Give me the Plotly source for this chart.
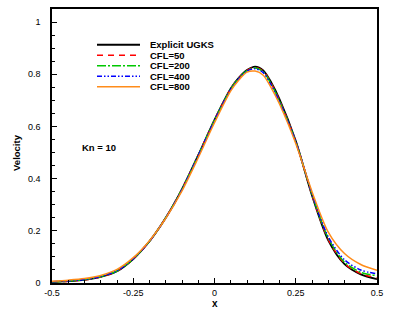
import plotly.graph_objects as go

x = [-0.5, -0.45, -0.4, -0.35, -0.3, -0.25, -0.2, -0.15, -0.1, -0.05, 0.0,
     0.05, 0.075, 0.1, 0.125, 0.15, 0.175, 0.2, 0.25, 0.3, 0.35, 0.4, 0.45, 0.5]

explicit_ugks = [0.004, 0.007, 0.012, 0.023, 0.045, 0.092, 0.160, 0.250, 0.360, 0.490, 0.625,
                 0.745, 0.787, 0.816, 0.829, 0.815, 0.768, 0.705, 0.545, 0.335, 0.163, 0.072, 0.033, 0.015]
cfl50 = [0.004, 0.007, 0.012, 0.023, 0.045, 0.092, 0.160, 0.250, 0.360, 0.490, 0.625,
         0.745, 0.786, 0.815, 0.826, 0.812, 0.764, 0.700, 0.543, 0.337, 0.167, 0.075, 0.036, 0.020]
cfl200 = [0.004, 0.007, 0.013, 0.024, 0.046, 0.092, 0.160, 0.250, 0.360, 0.490, 0.624,
          0.744, 0.785, 0.814, 0.824, 0.810, 0.761, 0.697, 0.542, 0.340, 0.172, 0.080, 0.041, 0.028]
cfl400 = [0.005, 0.008, 0.013, 0.025, 0.047, 0.093, 0.160, 0.249, 0.358, 0.488, 0.622,
          0.742, 0.783, 0.812, 0.821, 0.806, 0.757, 0.694, 0.541, 0.343, 0.177, 0.089, 0.050, 0.035]
cfl800 = [0.007, 0.011, 0.017, 0.029, 0.052, 0.097, 0.162, 0.248, 0.353, 0.480, 0.614,
          0.736, 0.778, 0.808, 0.812, 0.796, 0.747, 0.686, 0.535, 0.350, 0.195, 0.113, 0.071, 0.049]

names = ["Explicit UGKS", "CFL=50", "CFL=200", "CFL=400", "CFL=800"]
series = [explicit_ugks, cfl50, cfl200, cfl400, cfl800]
colors = ["#000000", "#ff0000", "#00c800", "#0000ff", "#ff8c1a"]
dashes = ["solid", "6px,5px", "9px,2px,2px,2px", "5px,2px,1.5px,2px,1.5px,2px", "solid"]
widths = [1.8, 1.5, 1.5, 1.5, 1.5]

FONT = "Liberation Sans, Arial, Helvetica, sans-serif"

fig = go.Figure()
for nm, ys, c, d, w in zip(names, series, colors, dashes, widths):
    fig.add_trace(go.Scatter(x=x, y=ys, mode="lines", name=nm,
                             line=dict(color=c, dash=d, width=w, shape="spline", smoothing=0.8),
                             showlegend=False))

# manual legend
L, R, T, B = 52, 377, 7, 283
W, H = R - L, B - T
def px(p):
    return (p - L) / W
def py(p):
    return (B - p) / H

shapes = []
annotations = []
for i, (nm, c, d, w) in enumerate(zip(names, colors, dashes, widths)):
    yy = py(43 + 10.6 * i)
    shapes.append(dict(type="line", xref="paper", yref="paper",
                       x0=px(97), x1=px(140), y0=yy, y1=yy,
                       line=dict(color=c, dash=d, width=w)))
    annotations.append(dict(xref="paper", yref="paper", x=px(148), y=yy,
                            xanchor="left", yanchor="middle", showarrow=False,
                            text="<b>%s</b>" % nm,
                            font=dict(family=FONT, size=9.5, color="black")))

annotations.append(dict(xref="paper", yref="paper", x=px(80), y=py(147),
                        xanchor="left", yanchor="middle", showarrow=False,
                        text="<b>Kn = 10</b>", font=dict(family=FONT, size=9.5, color="black")))
annotations.append(dict(xref="paper", yref="paper", x=px(215), y=py(297.5),
                        xanchor="center", yanchor="top", showarrow=False, borderpad=0,
                        text="<b>x</b>", font=dict(family=FONT, size=10, color="black")))
annotations.append(dict(xref="paper", yref="paper", x=px(17), y=py(152),
                        xanchor="center", yanchor="middle", showarrow=False, textangle=-90,
                        text="<b>Velocity</b>", font=dict(family=FONT, size=9.5, color="black")))

fig.update_layout(
    width=399, height=319,
    margin=dict(l=L, r=399 - R, t=T, b=319 - B),
    paper_bgcolor="white", plot_bgcolor="white",
    font=dict(family=FONT, size=9, color="black"),
    shapes=shapes, annotations=annotations,
)
fig.update_xaxes(range=[-0.5, 0.5], tickvals=[-0.5, -0.25, 0, 0.25, 0.5],
                 ticktext=["-0.5", "-0.25", "0", "0.25", "0.5"],
                 ticks="inside", ticklen=5, tickwidth=1.3, tickcolor="black",
                 minor=dict(dtick=0.05, ticks="inside", ticklen=3, tickwidth=1, tickcolor="black"),
                 showline=True, linecolor="black", linewidth=1.5, mirror=True,
                 showgrid=False, zeroline=False, tickfont=dict(size=9))
fig.update_yaxes(range=[0, 1.05], tickvals=[0, 0.2, 0.4, 0.6, 0.8, 1.0],
                 ticktext=["0", "0.2", "0.4", "0.6", "0.8", "1"],
                 ticks="inside", ticklen=5, tickwidth=1.3, tickcolor="black",
                 minor=dict(dtick=0.05, tick0=0, ticks="inside", ticklen=3, tickwidth=1, tickcolor="black"),
                 showline=True, linecolor="black", linewidth=1.5, mirror=True,
                 showgrid=False, zeroline=False, tickfont=dict(size=9),
                 ticklabelstandoff=8)

fig.write_html("out.html", config={"displayModeBar": False},
               post_script="document.body.style.margin='0';document.body.style.padding='0';")
